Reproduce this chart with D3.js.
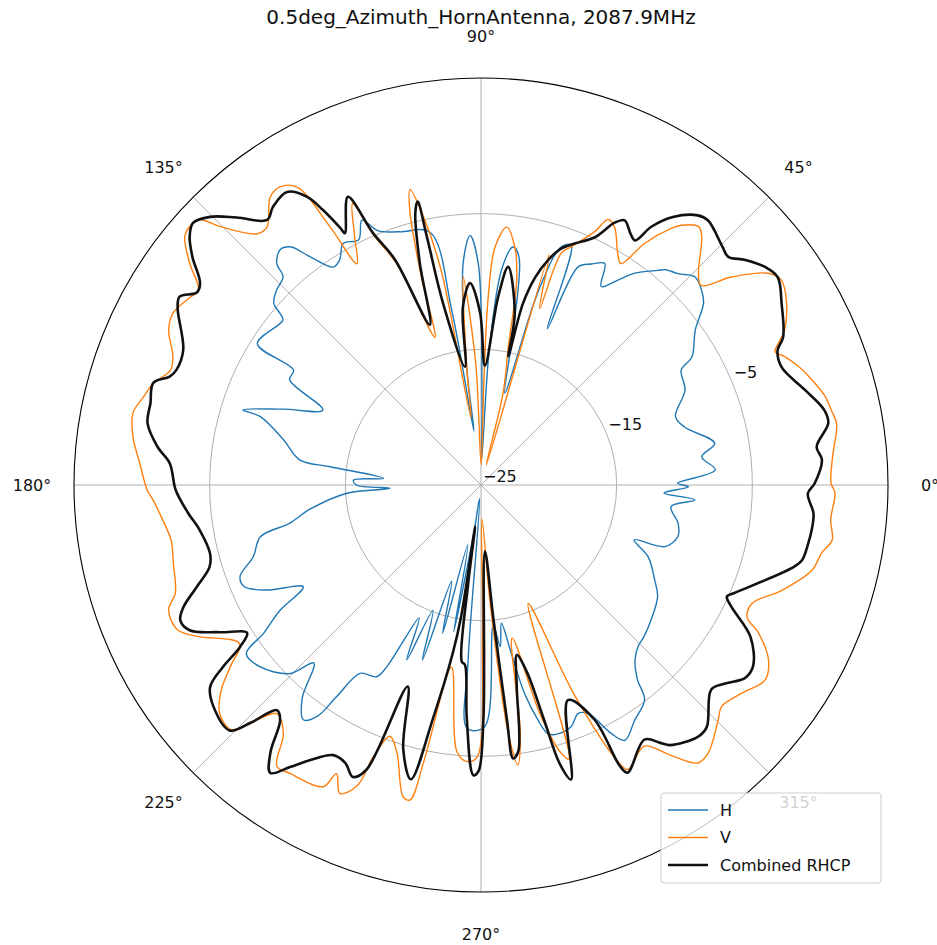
<!DOCTYPE html>
<html>
<head>
<meta charset="utf-8">
<script src="https://cdn.jsdelivr.net/npm/d3@7"></script>
<style>
  body { margin: 0; background: #fff; }
  text { font-family: "DejaVu Sans", sans-serif; fill: #111; }
</style>
</head>
<body>
<script>
// Chart values: [angle in degrees, level in dB].
const title = '0.5deg_Azimuth_HornAntenna, 2087.9MHz'
const angleTicks = [0, 45, 90, 135, 180, 225, 270, 315]
const radialTicks = [-25, -15, -5]
const radialDomain = [-25, 5]
const seriesNames = ['H', 'V', 'Combined RHCP']

const hData = [
  [0.5,-10.5],[3.7,-7.7],[7.3,-8.6],[10.1,-7.5],[15.9,-9.4],[19.4,-9.8],[25.0,-8.4],[29.8,-8.0],
  [31.3,-6.8],[35.9,-5.5],[39.3,-3.8],[41.5,-3.3],[44.2,-3.0],[47.0,-3.7],[49.4,-4.1],[50.5,-4.5],
  [54.0,-5.7],[56.2,-6.8],[58.8,-7.9],[60.8,-6.3],[63.5,-6.8],[66.0,-7.4],[67.0,-12.5],[69.4,-6.1],
  [71.4,-6.5],[73.5,-10.0],[75.5,-18.0],[78.0,-14.0],[80.5,-8.0],[82.3,-7.3],[84.5,-9.0],[86.5,-15.0],
  [88.3,-23.0],[89.3,-18.7],[90.7,-8.7],[92.5,-6.6],[94.6,-8.6],[96.9,-16.2],[97.5,-21.0],[99.5,-12.0],
  [101.4,-6.0],[107.8,-5.4],[112.0,-4.8],[114.2,-3.6],[116.5,-4.8],[119.7,-4.5],[122.1,-5.4],[124.1,-5.6],
  [126.8,-4.0],[128.7,-2.5],[130.5,-2.2],[132.7,-2.8],[133.5,-3.8],[136.5,-4.2],[138.8,-4.7],[139.5,-5.5],
  [140.2,-6.0],[147.7,-5.5],[148.5,-8.8],[151.2,-8.9],[154.6,-12.1],[159.0,-9.4],[162.5,-6.6],[162.8,-8.0],
  [167.2,-10.1],[172.1,-11.5],[173.1,-13.8],[176.1,-17.8],[177.8,-15.6],[180.0,-15.8],[182.1,-18.3],[183.5,-15.1],
  [188.0,-12.3],[191.3,-10.6],[193.2,-8.3],[197.5,-7.4],[200.8,-6.0],[203.2,-6.0],[206.1,-7.4],[209.8,-9.9],
  [212.0,-7.5],[214.3,-5.6],[215.7,-3.7],[219.4,-3.9],[224.6,-5.2],[226.8,-7.0],[230.0,-4.5],[232.9,-3.3],
  [234.7,-4.1],[235.7,-6.1],[237.3,-8.5],[241.4,-8.9],[242.6,-9.9],[245.0,-14.2],[247.0,-11.0],[249.0,-15.1],
  [251.5,-11.4],[253.0,-17.6],[255.5,-13.7],[257.5,-20.5],[259.5,-14.0],[261.5,-21.5],[264.0,-24.0],[265.8,-12.0],
  [266.8,-7.0],[270.9,-7.2],[275.0,-14.6],[276.8,-13.0],[278.4,-14.7],[280.2,-12.4],[281.8,-9.3],[283.6,-7.2],
  [285.1,-6.0],[287.2,-5.8],[290.5,-6.0],[293.0,-6.7],[295.1,-6.4],[297.7,-4.3],[299.4,-3.4],[303.2,-4.3],
  [307.3,-5.1],[308.8,-6.6],[311.3,-7.8],[314.2,-8.4],[317.2,-8.6],[321.6,-9.0],[327.7,-9.6],[331.3,-10.4],
  [336.8,-11.6],[340.3,-13.0],[341.5,-10.7],[345.3,-10.0],[349.0,-10.2],[353.5,-10.9],[356.0,-9.2],[357.5,-11.5],
  [359.5,-9.7]
]

const vData = [
  [0.3,0.8],[4.6,1.0],[9.8,1.6],[12.1,1.4],[14.4,1.2],[17.6,0.6],[20.4,0.0],[22.9,-0.7],[24.4,-1.2],
  [25.5,-0.7],[27.0,0.1],[30.7,1.2],[34.3,1.8],[36.4,1.3],[39.7,-1.0],[42.2,-3.1],[44.3,-2.6],[48.4,-0.5],
  [49.9,-0.1],[52.3,-0.8],[53.5,-1.5],[55.9,-3.5],[57.7,-5.7],[59.4,-5.2],[62.6,-3.6],[64.4,-3.3],[65.8,-4.5],
  [69.2,-6.2],[70.9,-6.9],[71.6,-11.3],[73.5,-7.3],[75.0,-23.5],[76.5,-18.0],[78.8,-14.6],[80.1,-9.7],
  [81.9,-7.3],[84.3,-5.9],[86.6,-7.4],[87.8,-11.1],[88.4,-17.3],[89.5,-23.5],[92.5,-16.0],[94.9,-9.6],
  [97.0,-16.5],[98.5,-20.0],[100.5,-9.0],[102.0,-5.0],[103.5,-2.6],[104.5,-4.0],[106.0,-9.0],[107.3,-13.6],
  [110.9,-7.5],[113.2,-5.0],[114.5,-2.2],[117.0,-4.5],[119.3,-6.3],[120.3,-3.0],[121.7,0.8],[124.0,1.5],
  [126.2,1.3],[129.7,-0.3],[131.7,-0.2],[135.3,2.1],[136.7,3.5],[138.4,3.7],[140.0,3.5],[142.7,2.0],
  [145.4,0.3],[147.1,0.5],[150.8,1.0],[153.6,0.7],[157.4,-0.4],[159.7,-0.6],[162.8,0.3],[165.3,0.7],
  [168.3,1.2],[172.1,0.9],[176.4,0.2],[180.9,-0.4],[182.6,-0.8],[186.3,-1.4],[190.1,-1.8],[194.3,-1.6],
  [199.5,-1.1],[201.8,-0.2],[205.5,-0.2],[208.1,-1.3],[213.3,-3.7],[215.9,-2.2],[218.3,-0.6],[221.2,0.6],
  [224.3,0.8],[225.5,0.0],[228.2,-2.4],[231.5,-1.6],[234.0,0.6],[236.5,0.5],[242.4,0.1],[243.4,-1.2],
  [245.4,0.0],[247.6,-1.0],[248.4,-3.5],[250.1,-5.3],[252.6,-4.3],[256.0,-1.3],[257.3,-1.2],[258.3,-4.1],
  [260.8,-11.4],[264.8,-5.3],[267.0,-4.6],[269.1,-4.9],[270.6,-14.0],[271.5,-22.5],[274.5,-16.0],[276.3,-6.5],
  [277.5,-4.2],[279.0,-6.5],[281.5,-13.5],[284.5,-7.5],[286.6,-4.4],[287.8,-3.8],[291.7,-15.6],[294.0,-8.0],
  [296.2,-2.5],[297.3,-1.4],[302.0,-2.3],[305.0,-0.7],[308.0,1.0],[310.3,0.9],[315.3,-0.4],[317.4,-0.9],
  [321.4,-0.4],[325.5,0.4],[328.7,-0.2],[331.9,-1.8],[333.6,-3.1],[336.4,-3.2],[340.7,-1.5],[345.6,0.2],
  [348.7,0.6],[351.1,1.2],[354.3,0.9],[358.7,1.1]
]

const rhcpData = [
  [0.3,-0.4],[4.2,0.2],[6.5,-0.1],[10.1,1.0],[12.3,0.9],[16.3,-0.1],[21.4,-1.2],[24.4,-1.0],[26.1,-0.2],
  [31.2,0.9],[35.0,1.7],[37.5,1.4],[40.4,0.6],[42.7,-0.2],[44.6,0.0],[49.4,0.7],[51.2,0.5],[54.4,-0.7],
  [56.6,-2.2],[57.8,-3.7],[59.4,-3.4],[61.5,-2.8],[63.0,-3.3],[65.3,-4.9],[68.8,-5.9],[71.3,-6.6],[73.4,-7.7],
  [75.4,-9.2],[77.0,-11.3],[78.0,-15.3],[78.9,-12.1],[82.9,-8.8],[84.8,-11.1],[88.1,-16.2],[90.3,-12.3],
  [93.1,-10.1],[95.8,-11.8],[97.7,-16.2],[101.8,-11.3],[102.3,-6.3],[102.6,-3.6],[103.6,-4.4],[105.4,-8.0],
  [107.7,-12.6],[110.9,-7.2],[113.2,-4.8],[114.8,-1.6],[118.4,-3.9],[118.7,-3.4],[119.9,-1.6],[121.1,-0.2],
  [123.5,0.9],[126.8,0.6],[128.9,0.1],[132.4,1.7],[135.3,3.1],[137.7,3.7],[139.6,3.2],[141.7,2.1],[144.3,0.5],
  [145.9,0.3],[148.0,1.2],[149.7,0.9],[155.6,-0.9],[159.3,-1.0],[160.8,-0.7],[162.7,0.3],[166.1,0.1],
  [169.5,0.0],[173.3,-1.0],[176.0,-2.0],[181.0,-2.5],[185.4,-3.3],[189.1,-4.0],[194.1,-4.4],[196.8,-4.1],
  [199.8,-2.7],[202.3,-1.3],[204.2,-0.7],[206.5,-1.0],[209.4,-2.9],[212.3,-4.6],[213.9,-3.6],[215.2,-1.7],
  [216.7,-0.1],[219.6,0.6],[224.3,0.9],[225.9,-0.6],[227.8,-2.6],[229.5,-2.2],[231.8,0.1],[233.8,1.3],
  [235.9,0.1],[238.1,-1.1],[241.3,-2.3],[244.0,-2.2],[246.3,-1.5],[248.1,-2.4],[250.0,-9.2],[253.6,-4.7],
  [256.6,-2.7],[258.4,-7.5],[260.5,-12.5],[261.4,-15.1],[262.0,-21.9],[262.6,-17.6],[263.8,-11.9],[264.9,-11.7],
  [266.5,-7.8],[268.5,-3.6],[269.5,-3.9],[270.6,-7.8],[273.4,-20.1],[275.3,-15.1],[276.3,-7.7],[276.7,-4.7],
  [278.0,-5.2],[280.1,-10.0],[281.9,-12.2],[283.8,-10.8],[285.0,-7.2],[285.8,-3.6],[287.0,-2.3],[292.0,-7.9],
  [295.8,-5.8],[296.3,-1.9],[297.0,-1.2],[302.7,-2.7],[304.9,-1.8],[306.0,-1.3],[310.8,-0.5],[313.0,-0.6],
  [318.4,-2.3],[320.9,-1.8],[323.8,-0.9],[326.3,-0.9],[330.6,-2.2],[334.1,-4.5],[335.6,-5.1],[336.9,-4.7],
  [341.5,-2.9],[345.0,-1.3],[346.8,-0.7],[349.9,-0.5],[352.3,-0.4],[355.1,-0.4],[358.5,-0.9]
]

// Layout.
const width = 937
const height = 945
const cx = 481
const cy = 485
const R = 407

const svg = d3.select('body')
  .append('svg')
    .attr('width', width)
    .attr('height', height)

svg.append('rect')
    .attr('width', width)
    .attr('height', height)
    .attr('fill', '#fff')

const g = svg.append('g')
    .attr('transform', `translate(${cx}, ${cy})`)

// Scales. Polar angle: 0 deg at the right, counter-clockwise.
const r = d3.scaleLinear().domain(radialDomain).range([0, R])
const rad = deg => deg * Math.PI / 180
const px = (deg, rr) => rr * Math.cos(rad(deg))
const py = (deg, rr) => -rr * Math.sin(rad(deg))

// Grid circles.
g.selectAll('.ring')
  .data(radialTicks.filter(t => r(t) > 0))
  .enter().append('circle')
    .attr('class', 'ring')
    .attr('r', d => r(d))
    .attr('fill', 'none')
    .attr('stroke', '#b0b0b0')
    .attr('stroke-width', 1)

// Spokes.
g.selectAll('.spoke')
  .data(angleTicks)
  .enter().append('line')
    .attr('class', 'spoke')
    .attr('x1', 0).attr('y1', 0)
    .attr('x2', d => px(d, R))
    .attr('y2', d => py(d, R))
    .attr('stroke', '#b0b0b0')
    .attr('stroke-width', 1)

// Data lines (smoothed, centripetal so the narrow lobes don't loop).
const line = d3.lineRadial()
  .angle(d => rad(90 - d[0]))
  .radius(d => r(d[1]))
  .curve(d3.curveCatmullRomClosed.alpha(0.5))

const series = [
  { name: seriesNames[0], data: hData, color: '#1f77b4', w: 1.4 },
  { name: seriesNames[1], data: vData, color: '#ff7f0e', w: 1.4 },
  { name: seriesNames[2], data: rhcpData, color: '#111', w: 2.6 }
]

g.selectAll('.series')
  .data(series)
  .enter().append('path')
    .attr('class', 'series')
    .attr('d', d => line(d.data))
    .attr('fill', 'none')
    .attr('stroke', d => d.color)
    .attr('stroke-width', d => d.w)
    .attr('stroke-linejoin', 'round')

// Outer frame.
g.append('circle')
    .attr('r', R)
    .attr('fill', 'none')
    .attr('stroke', '#000')
    .attr('stroke-width', 1.1)

// Angle labels.
g.selectAll('.alabel')
  .data(angleTicks)
  .enter().append('text')
    .attr('class', 'alabel')
    .attr('x', d => px(d, 449))
    .attr('y', d => py(d, 449))
    .attr('text-anchor', 'middle')
    .attr('dominant-baseline', 'central')
    .style('font-size', '16px')
    .text(d => d + '°')

// Radial labels along 22.5 deg.
g.selectAll('.rlabel')
  .data(radialTicks)
  .enter().append('text')
    .attr('class', 'rlabel')
    .attr('x', d => px(22.5, r(d)) + 2)
    .attr('y', d => py(22.5, r(d)) - 3)
    .style('font-size', '16px')
    .text(d => d3.format('d')(d).replace('-', '\u2212'))

// Title.
svg.append('text')
    .attr('x', cx)
    .attr('y', 24)
    .attr('text-anchor', 'middle')
    .style('font-size', '20px')
    .text(title)

// Legend.
const legend = svg.append('g')
    .attr('transform', 'translate(661, 793)')

legend.append('rect')
    .attr('width', 220)
    .attr('height', 90)
    .attr('rx', 3)
    .attr('fill', '#fff')
    .attr('fill-opacity', 0.8)
    .attr('stroke', '#cccccc')

const item = legend.selectAll('.item')
  .data(series)
  .enter().append('g')
    .attr('class', 'item')
    .attr('transform', (d, i) => `translate(0, ${17 + i * 27.5})`)

item.append('line')
    .attr('x1', 7).attr('x2', 47)
    .attr('stroke', d => d.color)
    .attr('stroke-width', d => d.w)

item.append('text')
    .attr('x', 59)
    .attr('dominant-baseline', 'central')
    .style('font-size', '16px')
    .text(d => d.name)
</script>
</body>
</html>
